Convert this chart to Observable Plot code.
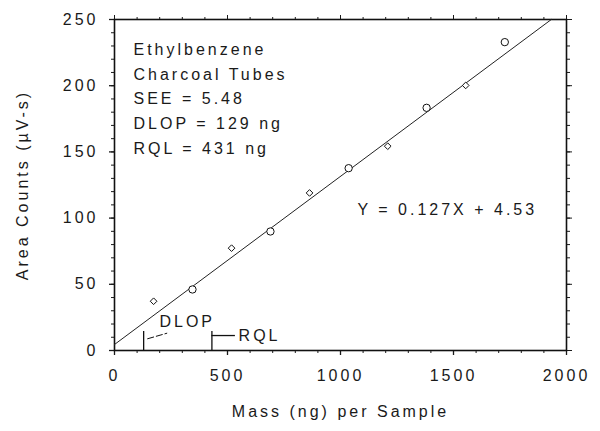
<!DOCTYPE html>
<html>
<head>
<meta charset="utf-8">
<script src="https://cdn.jsdelivr.net/npm/d3@7"></script>
<script src="https://cdn.jsdelivr.net/npm/@observablehq/plot@0.6"></script>
<style>
  html, body { margin: 0; padding: 0; background: #fff; }
  #chart svg text { letter-spacing: 3px; }
</style>
</head>
<body>
<div id="chart"></div>
<script>
// Data
const mass = [173, 345, 518, 690, 863, 1036, 1209, 1381, 1554, 1727];
const area = [37.2, 46.1, 77.3, 89.9, 119.0, 137.7, 154.3, 183.3, 200.2, 232.9];
const markers = ["diamond2", "circle", "diamond2", "circle", "diamond2", "circle", "diamond2", "circle", "diamond2", "circle"];
const slope = 0.127;
const intercept = 4.53;
const dlop = 129;
const rql = 431;
const infoLines = ["Ethylbenzene", "Charcoal Tubes", "SEE = 5.48", "DLOP = 129 ng", "RQL = 431 ng"];
const equation = "Y = 0.127X + 4.53";
const xMajor = [0, 500, 1000, 1500, 2000];
const yMajor = [0, 50, 100, 150, 200, 250];
const xMinor = d3.range(0, 2001, 100);
const yMinor = d3.range(0, 251, 10);

const points = mass.map((m, i) => ({mass: m, area: area[i], symbol: markers[i]}));
const xEnd = (250 - intercept) / slope;
const fitLine = [{x: 0, y: intercept}, {x: xEnd, y: 250}];

const font = "Arial, 'Liberation Sans', Helvetica, sans-serif";
const ink = "#1a1a1a";

const chart = Plot.plot({
  width: 600,
  height: 431,
  marginLeft: 114,
  marginRight: 34,
  marginTop: 19,
  marginBottom: 81,
  style: {fontFamily: font, fontSize: "16px", color: ink, background: "#fff"},
  x: {domain: [0, 2000]},
  y: {domain: [0, 250]},
  symbol: {domain: ["diamond2", "circle"], range: ["diamond2", "circle"]},
  marks: [
    // minor ticks
    Plot.axisX({ticks: xMinor, tickSize: 3, text: null, stroke: ink}),
    Plot.axisX({anchor: "top", ticks: xMinor, tickSize: 3, text: null, stroke: ink}),
    Plot.axisY({ticks: yMinor, tickSize: 3, text: null, stroke: ink}),
    Plot.axisY({anchor: "right", ticks: yMinor, tickSize: 3, text: null, stroke: ink}),
    // major ticks
    Plot.axisX({ticks: xMajor, tickSize: 5, tickPadding: 14, strokeWidth: 1.3, fill: ink,
      tickFormat: d => String(d), label: "Mass (ng) per Sample", labelAnchor: "center", labelArrow: "none", labelOffset: 66}),
    Plot.axisX({anchor: "top", ticks: xMajor, tickSize: 5, text: null, label: null}),
    Plot.axisY({ticks: yMajor, tickSize: 5, tickPadding: 11, strokeWidth: 1.3, fill: ink,
      tickFormat: d => String(d), label: "Area Counts (µV-s)", labelAnchor: "center", labelArrow: "none", labelOffset: 98}),
    Plot.axisY({anchor: "right", ticks: yMajor, tickSize: 5, text: null, label: null}),
    Plot.frame({stroke: "#111", strokeWidth: 1.6}),
    // regression line
    Plot.line(fitLine, {x: "x", y: "y", stroke: "#222", strokeWidth: 1}),
    // data points
    Plot.dot(points, {x: "mass", y: "area", symbol: "symbol",
      r: d => d.symbol === "circle" ? 3.6 : 2.4, stroke: "#111", fill: "#fff", strokeWidth: 1}),
    // DLOP marker
    Plot.ruleX([dlop], {y1: 0, y2: 14.3, stroke: "#111", strokeWidth: 1.3}),
    Plot.link([{x1: 145, y1: 8.8, x2: 233, y2: 13.1}], {x1: "x1", y1: "y1", x2: "x2", y2: "y2",
      stroke: "#111", strokeWidth: 1, strokeDasharray: "7,2"}),
    Plot.text(["DLOP"], {x: 199, y: 21.4, textAnchor: "start", fill: ink, fontSize: 16}),
    // RQL marker
    Plot.ruleX([rql], {y1: 0, y2: 14.3, stroke: "#111", strokeWidth: 1.3}),
    Plot.ruleY([11.3], {x1: rql, x2: 535, stroke: "#111", strokeWidth: 1.3}),
    Plot.text(["RQL"], {x: 549, y: 11.3, textAnchor: "start", fill: ink, fontSize: 16}),
    // info text box
    Plot.text([infoLines.join("\n")], {frameAnchor: "top-left", dx: 19, dy: 18,
      lineAnchor: "top", lineHeight: 1.54, textAnchor: "start", fill: ink, fontSize: 16}),
    // equation
    Plot.text([equation], {x: 1075, y: 106.5, textAnchor: "start", fill: ink, fontSize: 16})
  ]
});

document.getElementById("chart").appendChild(chart);
</script>
</body>
</html>
